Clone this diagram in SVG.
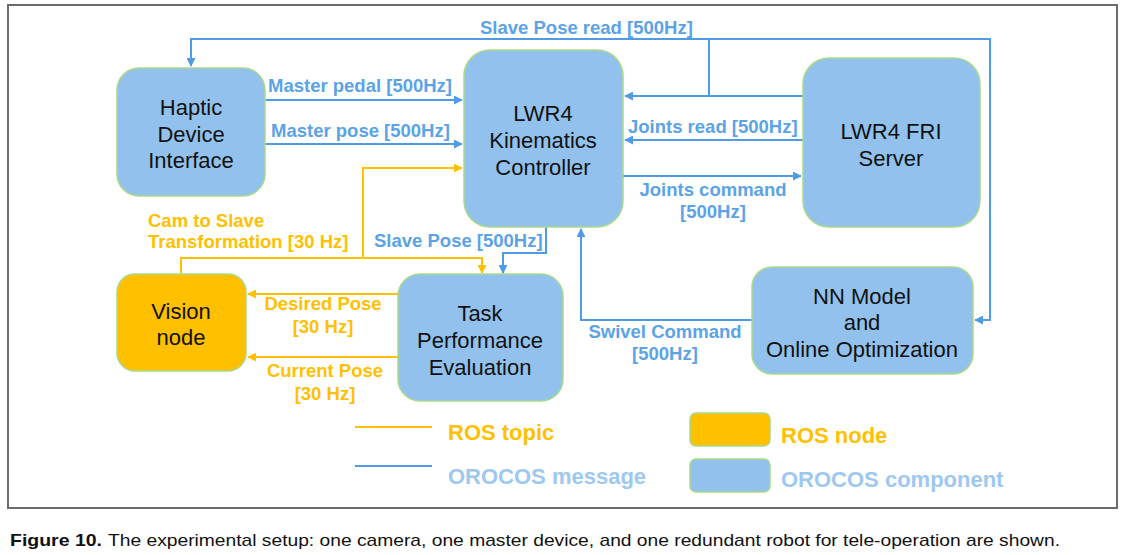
<svg xmlns="http://www.w3.org/2000/svg" width="1122" height="555" viewBox="0 0 1122 555">
<style>
.frame{fill:#fff;stroke:#6b6b6b;stroke-width:2}
.comp{fill:#92c1ed;stroke:#a9d98c;stroke-width:1.5}
.ros{fill:#ffc000;stroke:#a9d98c;stroke-width:1.5}
.nt{font-family:"Liberation Sans",Arial,sans-serif;font-size:22px;fill:#111;text-anchor:middle}
.bl{font-family:"Liberation Sans",Arial,sans-serif;font-size:18.5px;font-weight:bold;fill:#5ba3e6}
.yl{font-family:"Liberation Sans",Arial,sans-serif;font-size:18.5px;font-weight:bold;fill:#ffc000}
.lg{font-family:"Liberation Sans",Arial,sans-serif;font-size:22px;font-weight:bold}
.cb{fill:none;stroke:#4f9be6;stroke-width:2}
.cy{fill:none;stroke:#ffc000;stroke-width:2}
.mid{text-anchor:middle}
.cap{font-family:"Liberation Sans",Arial,sans-serif;font-size:17px;fill:#111}
</style>
<defs>
<marker id="ab" viewBox="0 0 10 10" refX="9" refY="5" markerWidth="4.5" markerHeight="4.5" orient="auto" markerUnits="strokeWidth"><path d="M0,0 L10,5 L0,10 z" fill="#4f9be6"/></marker>
<marker id="ay" viewBox="0 0 10 10" refX="9" refY="5" markerWidth="4.5" markerHeight="4.5" orient="auto" markerUnits="strokeWidth"><path d="M0,0 L10,5 L0,10 z" fill="#ffc000"/></marker>
</defs>
<rect class="frame" x="8" y="5" width="1109" height="503"/>

<g id="connectors">
<path class="cb" d="M709,96 V39 H191 V66" marker-end="url(#ab)"/>
<path class="cb" d="M709,39 H990 V320 H975" marker-end="url(#ab)"/>
<path class="cb" d="M803,96 H625" marker-end="url(#ab)"/>
<path class="cb" d="M265,100 H462" marker-end="url(#ab)"/>
<path class="cb" d="M265,144 H462" marker-end="url(#ab)"/>
<path class="cb" d="M803,140 H625" marker-end="url(#ab)"/>
<path class="cb" d="M623,176 H801" marker-end="url(#ab)"/>
<path class="cb" d="M546,227 V253 H503 V273" marker-end="url(#ab)"/>
<path class="cb" d="M752,320 H581 V229" marker-end="url(#ab)"/>
<path class="cy" d="M181,273 V258 H482 V273" marker-end="url(#ay)"/>
<path class="cy" d="M363,258 V168 H462" marker-end="url(#ay)"/>
<path class="cy" d="M398,294 H248" marker-end="url(#ay)"/>
<path class="cy" d="M398,357 H248" marker-end="url(#ay)"/>
<text class="bl" x="480" y="34">Slave Pose read [500Hz]</text>
<text class="bl" x="268" y="92">Master pedal [500Hz]</text>
<text class="bl" x="271" y="137">Master pose [500Hz]</text>
<text class="bl" x="628" y="133">Joints read [500Hz]</text>
<text class="bl mid" x="713" y="196">Joints command</text>
<text class="bl mid" x="713" y="218">[500Hz]</text>
<text class="bl" x="374" y="247">Slave Pose [500Hz]</text>
<text class="bl mid" x="665" y="338">Swivel Command</text>
<text class="bl mid" x="665" y="360">[500Hz]</text>
<text class="yl" x="148" y="227">Cam to Slave</text>
<text class="yl" x="148" y="248">Transformation [30 Hz]</text>
<text class="yl mid" x="323" y="310">Desired Pose</text>
<text class="yl mid" x="323" y="333">[30 Hz]</text>
<text class="yl mid" x="325" y="377">Current Pose</text>
<text class="yl mid" x="325" y="400">[30 Hz]</text>
</g>

<g id="haptic">
<rect class="comp" x="117" y="68" width="148" height="128" rx="22"/>
<text class="nt" x="191" y="115">Haptic</text>
<text class="nt" x="191" y="142">Device</text>
<text class="nt" x="191" y="168">Interface</text>
</g>
<g id="kinematics">
<rect class="comp" x="464" y="50" width="159" height="177" rx="26"/>
<text class="nt" x="543" y="121">LWR4</text>
<text class="nt" x="543" y="148">Kinematics</text>
<text class="nt" x="543" y="175">Controller</text>
</g>
<g id="fri">
<rect class="comp" x="803" y="58" width="177" height="169" rx="26"/>
<text class="nt" x="891" y="139">LWR4 FRI</text>
<text class="nt" x="891" y="166">Server</text>
</g>
<g id="vision">
<rect class="ros" x="117" y="274" width="129" height="97" rx="18"/>
<text class="nt" x="181" y="319">Vision</text>
<text class="nt" x="181" y="345">node</text>
</g>
<g id="task">
<rect class="comp" x="398" y="274" width="165" height="127" rx="22"/>
<text class="nt" x="480" y="321">Task</text>
<text class="nt" x="480" y="348">Performance</text>
<text class="nt" x="480" y="375">Evaluation</text>
</g>
<g id="nn">
<rect class="comp" x="752" y="267" width="221" height="107" rx="20"/>
<text class="nt" x="862" y="304">NN Model</text>
<text class="nt" x="862" y="330">and</text>
<text class="nt" x="862" y="357">Online Optimization</text>
</g>

<g id="legend">
<line x1="355" y1="427" x2="432" y2="427" stroke="#ffc000" stroke-width="2"/>
<line x1="355" y1="466" x2="432" y2="466" stroke="#4f9be6" stroke-width="2"/>
<text class="lg" x="448" y="440" fill="#ffc000">ROS topic</text>
<text class="lg" x="448" y="484" fill="#9dc8f0">OROCOS message</text>
<rect class="ros" x="690" y="413" width="80" height="33" rx="6"/>
<rect class="comp" x="690" y="459" width="80" height="33" rx="6"/>
<text class="lg" x="781" y="443" fill="#ffc000">ROS node</text>
<text class="lg" x="781" y="487" fill="#9dc8f0" font-size="22.4px">OROCOS component</text>
</g>

<text class="cap" x="10" y="546" font-weight="bold" textLength="92" lengthAdjust="spacingAndGlyphs" font-size="18">Figure 10.</text>
<text class="cap" x="108" y="546" textLength="952" lengthAdjust="spacingAndGlyphs">The experimental setup: one camera, one master device, and one redundant robot for tele-operation are shown.</text>
</svg>
